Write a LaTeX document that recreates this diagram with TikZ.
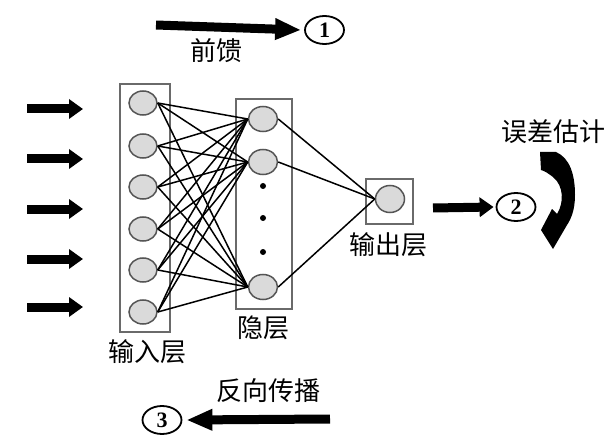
\documentclass[tikz,border=0pt]{standalone}
\usepackage{fontspec}
\newfontfamily\cjk{Noto Sans CJK SC}
\newfontfamily\numfont{Liberation Serif}
\usetikzlibrary{shapes.geometric,arrows.meta}
\definecolor{nfill}{HTML}{DADADA}
\definecolor{nline}{HTML}{555555}
\definecolor{bline}{HTML}{6A6A6A}
\tikzset{
  neuron/.style={ellipse,draw=nline,line width=1.5pt,fill=nfill,minimum width=28pt,minimum height=24pt,inner sep=0pt},
  layerbox/.style={draw=bline,line width=2pt,inner sep=0pt},
  conn/.style={black,line width=1.5pt},
  fat/.style={line width=9pt,-{Triangle[width=19pt,length=14pt]}},
  longfat/.style={line width=9pt,-{Triangle[width=20pt,length=26pt]}},
  lbl/.style={font=\cjk\fontsize{26}{30}\selectfont,inner sep=0pt},
  num/.style={ellipse,draw,line width=1.8pt,minimum width=39pt,minimum height=28pt,inner sep=0pt,font=\numfont\bfseries\fontsize{22}{22}\selectfont},
  dotn/.style={circle,fill=black,minimum size=6pt,inner sep=0pt}
}
\begin{document}
\begin{tikzpicture}[x=1pt,y=-1pt]
\useasboundingbox (0,0) rectangle (616,441);
% boxes
\node[layerbox,minimum width=50pt,minimum height=248pt] (inbox) at (145,208) {};
\node[layerbox,minimum width=56pt,minimum height=210pt] (hidbox) at (264,204) {};
\node[layerbox,minimum width=47pt,minimum height=45pt] (outbox) at (389.5,201.5) {};
% input neurons
\foreach \i/\y in {1/103,2/146,3/187,4/229,5/270,6/312}
  \node[neuron] (i\i) at (143,\y) {};
% hidden neurons
\node[neuron,minimum width=29pt,minimum height=25pt] (h1) at (263,119) {};
\node[neuron,minimum width=29pt,minimum height=25pt] (h2) at (263,162) {};
\node[neuron,minimum width=29pt,minimum height=25pt] (h3) at (263,287) {};
\node[dotn] (d1) at (263,186) {};
\node[dotn] (d2) at (263,218) {};
\node[dotn] (d3) at (263,252) {};
% output neuron
\node[neuron,minimum width=29pt,minimum height=27pt] (o1) at (390,199) {};
% connections
\foreach \i in {1,...,6}
  \foreach \h in {1,2,3}
    \draw[conn] (i\i.east) -- (h\h.west);
\foreach \h in {1,2,3}
  \draw[conn] (h\h.east) -- (o1.west);
% input arrows
\foreach \k/\y in {1/109,2/159,3/209,4/259,5/307}{
  \coordinate (as\k) at (27,\y);
  \coordinate (ae\k) at (83,\y);
  \draw[fat] (as\k) -- (ae\k);
}
% labels
\node[lbl] (linput) at (147,352) {输入层};
\node[lbl] (lhidden) at (263.5,328) {隐层};
\node[lbl] (loutput) at (388,245) {输出层};
\node[lbl] (lfwd) at (216,51) {前馈};
\node[lbl] (lerr) at (553,132) {误差估计};
\node[lbl] (lback) at (268.5,391) {反向传播};
% circled numbers
\node[num] (n1) at (324.5,30) {1};
\node[num] (n2) at (516,207) {2};
\node[num] (n3) at (162,420) {3};
% feedforward arrow
\coordinate (fs) at (156,25);
\draw[longfat] (fs) -- ([xshift=-3pt]n1.west);
% output arrow
\coordinate (os) at (433,208);
\draw[fat] (os) -- ([xshift=-2pt]n2.west);
% backprop arrow
\coordinate (bs) at (330,419);
\draw[longfat] (bs) -- ([xshift=4pt]n3.east);
% curved error arrow (filled shape)
\fill (540,152) -- (556,152)
  .. controls (570,158) and (575,175) .. (575,195)
  .. controls (575,210) and (571,219) .. (567,225)
  -- (553,249) -- (541,230) -- (552,209) -- (557,214)
  .. controls (564,203) and (564,186) .. (553,177)
  .. controls (549,174) and (545,171) .. (541,170) -- cycle;
\end{tikzpicture}
\end{document}
